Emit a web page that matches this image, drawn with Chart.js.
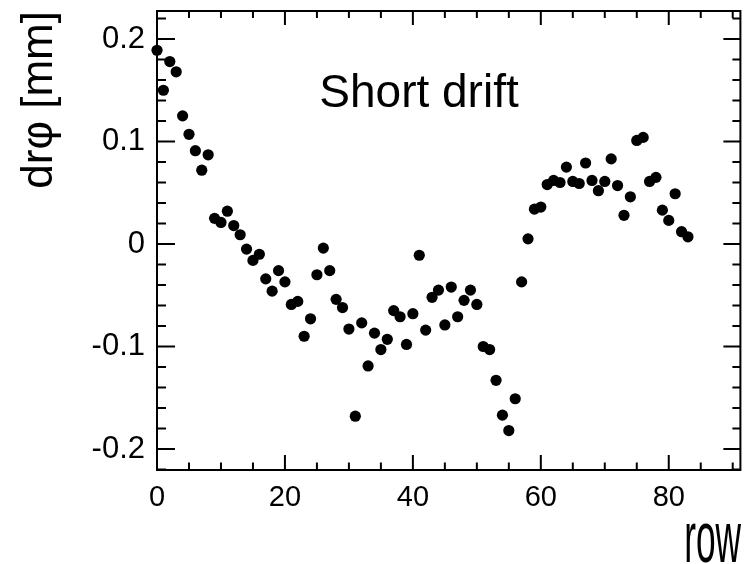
<!DOCTYPE html>
<html>
<head>
<meta charset="utf-8">
<script src="https://cdn.jsdelivr.net/npm/chart.js@4.4.1/dist/chart.umd.min.js"></script>
<style>
html, body { margin: 0; padding: 0; background: #fff; }
</style>
</head>
<body>
<canvas id="drift" width="746" height="564"></canvas>
<script>
// pad rows and the measured r-phi residual (mm)
const rows = [0, 1, 2, 3, 4, 5, 6, 7, 8, 9, 10, 11, 12, 13, 14, 15, 16, 17, 18, 19,
  20, 21, 22, 23, 24, 25, 26, 27, 28, 29, 30, 31, 32, 33, 34, 35, 36, 37, 38, 39,
  40, 41, 42, 43, 44, 45, 46, 47, 48, 49, 50, 51, 52, 53, 54, 55, 56, 57, 58, 59,
  60, 61, 62, 63, 64, 65, 66, 67, 68, 69, 70, 71, 72, 73, 74, 75, 76, 77, 78, 79,
  80, 81, 82, 83];
const drphi = [0.189, 0.150, 0.178, 0.168, 0.125, 0.107, 0.091, 0.072, 0.087, 0.025,
  0.021, 0.032, 0.018, 0.009, -0.005, -0.016, -0.010, -0.034, -0.046, -0.026,
  -0.037, -0.059, -0.056, -0.090, -0.073, -0.030, -0.004, -0.026, -0.054, -0.062,
  -0.083, -0.168, -0.077, -0.119, -0.087, -0.103, -0.093, -0.065, -0.071, -0.098,
  -0.068, -0.011, -0.084, -0.052, -0.045, -0.079, -0.042, -0.071, -0.055, -0.045,
  -0.059, -0.100, -0.103, -0.133, -0.167, -0.182, -0.151, -0.037, 0.005, 0.034,
  0.036, 0.058, 0.062, 0.060, 0.075, 0.061, 0.059, 0.079, 0.062, 0.052,
  0.061, 0.083, 0.057, 0.028, 0.046, 0.101, 0.104, 0.061, 0.065, 0.033,
  0.023, 0.049, 0.012, 0.007];

const xTicks = [0, 20, 40, 60, 80];
const yTicks = [-0.2, -0.1, 0, 0.1, 0.2];
const yTickLabels = ['-0.2', '-0.1', '0', '0.1', '0.2'];

const regular = '"Liberation Sans", Arial, sans-serif';

// ROOT style frame with inward ticks on all four sides, plus the texts
const rootFrame = {
  id: 'rootFrame',
  afterDraw(chart) {
    const ctx = chart.ctx;
    const a = chart.chartArea;
    const x = chart.scales.x;
    const y = chart.scales.y;
    ctx.save();
    ctx.strokeStyle = '#000';
    ctx.lineWidth = 2;
    ctx.strokeRect(a.left, a.top, a.right - a.left, a.bottom - a.top);
    ctx.beginPath();
    for (let v = 0; v <= x.max; v += 5) {
      const px = x.getPixelForValue(v);
      const major = v % 20 === 0;
      ctx.moveTo(px, a.bottom);
      ctx.lineTo(px, a.bottom - (major ? 15 : 7.5));
      ctx.moveTo(px, a.top);
      ctx.lineTo(px, a.top + (major ? 14 : 7));
    }
    for (let k = -11; k <= 11; k++) {
      const v = k * 0.02;
      if (v < y.min || v > y.max) continue;
      const py = y.getPixelForValue(v);
      const major = k % 5 === 0;
      ctx.moveTo(a.left, py);
      ctx.lineTo(a.left + (major ? 18 : 9), py);
      ctx.moveTo(a.right, py);
      ctx.lineTo(a.right - (major ? 17 : 8), py);
    }
    ctx.stroke();

    ctx.fillStyle = '#000';
    ctx.textAlign = 'center';
    ctx.textBaseline = 'alphabetic';
    ctx.font = '46px ' + regular;
    ctx.fillText('Short drift', 419, 107);

    // axis title is a tall condensed face in the original
    ctx.translate(741, 562);
    ctx.scale(0.49, 1);
    ctx.textAlign = 'right';
    ctx.font = '72px ' + regular;
    ctx.fillText('row', 0, 0);
    ctx.restore();
  }
};

new Chart(document.getElementById('drift'), {
  type: 'scatter',
  data: {
    datasets: [{
      label: 'dr\u03c6',
      data: rows.map((r, i) => ({ x: r, y: drphi[i] })),
      backgroundColor: '#000',
      borderWidth: 0,
      pointRadius: 5.6,
      pointHoverRadius: 5.6,
      clip: false
    }]
  },
  options: {
    responsive: false,
    animation: false,
    devicePixelRatio: 1,
    layout: { padding: { top: 11, right: 4, left: 0, bottom: 0 } },
    plugins: {
      legend: { display: false },
      tooltip: { enabled: false }
    },
    scales: {
      x: {
        type: 'linear',
        min: 0,
        max: 91.2,
        grid: { display: false, drawTicks: false },
        border: { display: false },
        afterBuildTicks: s => { s.ticks = xTicks.map(v => ({ value: v })); },
        afterFit: s => { s.height = 94; s.paddingLeft = 0; s.paddingRight = 0; },
        ticks: {
          color: '#000',
          font: { family: regular, size: 29 },
          padding: 11,
          maxRotation: 0,
          autoSkip: false,
          callback: v => String(v)
        }
      },
      y: {
        min: -0.2205,
        max: 0.2273,
        grid: { display: false, drawTicks: false },
        border: { display: false },
        afterBuildTicks: s => { s.ticks = yTicks.map(v => ({ value: v })); },
        afterFit: s => { s.width = 157; s.paddingTop = 0; s.paddingBottom = 0; },
        ticks: {
          color: '#000',
          font: { family: regular, size: 31 },
          padding: 12,
          autoSkip: false,
          callback: (v, i) => yTickLabels[i]
        },
        title: {
          display: true,
          text: 'dr\u03c6 [mm]',
          color: '#000',
          align: 'end',
          font: { family: regular, size: 44, lineHeight: 1 },
          padding: { top: 18, bottom: 0 }
        }
      }
    }
  },
  plugins: [rootFrame]
});
</script>
</body>
</html>
